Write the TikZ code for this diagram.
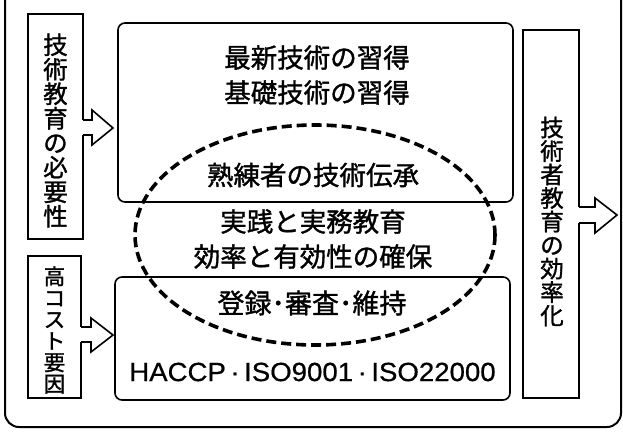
\documentclass[tikz,border=0pt]{standalone}
\usepackage{fontspec}
\newfontfamily\jp{Noto Sans CJK JP}[FakeBold=1.3]
\newfontfamily\lat{Liberation Sans}[FakeStretch=1.05, FakeBold=0.6]
\usetikzlibrary{calc}
\begin{document}
\begin{tikzpicture}[x=1pt,y=-1pt,
  box/.style={draw, line width=1.6pt, inner sep=0pt, outer sep=0pt},
  rbox/.style={box, rounded corners=7pt},
  vtext/.style={align=center, inner sep=0pt, font=\jp\fontsize{#1}{#1}\selectfont},
  htext/.style={align=center, inner sep=0pt, font=\jp\fontsize{26.5}{35}\selectfont},
  blockarrow/.style={draw, line width=1.6pt, line join=miter},
  dashring/.style={draw, line width=3.6pt, dash pattern=on 10pt off 5pt}]
\useasboundingbox (0,0) rectangle (623,439);
\fill[white] (0,0) rectangle (623,439);
% outer frame
\begin{scope}
\clip (0,0) rectangle (623,439);
\draw[line width=2pt, rounded corners=14pt] (5,-20) rectangle (621,427);
\end{scope}
% boxes
\node[box, minimum width=55pt, minimum height=225pt] (need) at (55.5,126.5) {};
\node[box, minimum width=53pt, minimum height=142pt] (cost) at (54.5,327) {};
\node[rbox, minimum width=395pt, minimum height=179pt] (top) at (315.5,112.5) {};
\node[rbox, minimum width=395pt, minimum height=123pt] (bot) at (312.5,338.5) {};
\node[box, minimum width=56pt, minimum height=368pt] (eff) at (551,214) {};
% dashed ellipse
\draw[dashring] (315,235) ellipse [x radius=180, y radius=110];
% vertical texts
\node[vtext=24.5] at ($(need.center)+(0,4)$) {技\\術\\教\\育\\の\\必\\要\\性};
\node[vtext=21.5] at ($(cost.center)+(0,3)$) {高\\コ\\ス\\ト\\要\\因};
\node[vtext=23.5] at ($(eff.center)+(1,7.5)$) {技\\術\\者\\教\\育\\の\\効\\率\\化};
% horizontal texts
\node[htext] (t1) at (317,75) {最新技術の習得\\基礎技術の習得};
\node[htext] (t2) at (313,175) {熟練者の技術伝承};
\node[htext] (t3) at (313,239) {実践と実務教育\\効率と有効性の確保};
\node[htext, font=\jp\fontsize{27}{30}\selectfont] (t4) at (312,303) {登録･審査･維持};
\node[htext, font=\lat\fontsize{26.3}{30}\selectfont] (t5) at (312.5,372) {HACCP\kern4.5pt·\kern4.5pt ISO9001\kern4.5pt·\kern4.5pt ISO22000};
% block arrows
\fill[white] ($(need.east)+(-1,-6.5)$) rectangle ($(need.east)+(1,8.5)$);
\draw[blockarrow] ($(need.east)+(0,-6.5)$) -- ++(9,0) -- ++(0,-10) -- ++(21,18) -- ++(-21,17) -- ++(0,-10) -- ++(-9,0);
\fill[white] ($(cost.east)+(-1,0)$) rectangle ($(cost.east)+(1,15)$);
\draw[blockarrow] ($(cost.east)+(0,0)$) -- ++(10,0) -- ++(0,-9) -- ++(22,17) -- ++(-22,17) -- ++(0,-10) -- ++(-10,0);
\fill[white] ($(eff.east)+(-1,-7)$) rectangle ($(eff.east)+(1,9)$);
\draw[blockarrow] ($(eff.east)+(0,-7)$) -- ++(16,0) -- ++(0,-9) -- ++(22,17) -- ++(-22,18) -- ++(0,-10) -- ++(-16,0);
\end{tikzpicture}
\end{document}
